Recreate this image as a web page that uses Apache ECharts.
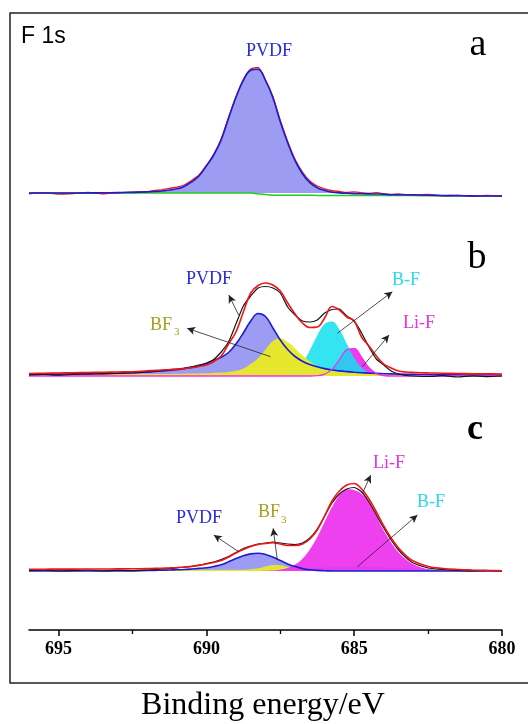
<!DOCTYPE html>
<html><head><meta charset="utf-8">
<script src="https://cdn.jsdelivr.net/npm/echarts/dist/echarts.min.js"></script>
<style>html,body{margin:0;padding:0;background:#fff;}#c{width:528px;height:724px;}</style>
</head><body><div id="c"></div>
<script>
// Binding energy grid (eV)
const energies = [696,695.5,695,694.5,694,693.5,693,692.5,692,691.75,691.5,691.25,691,690.75,690.5,690.25,690,689.75,689.5,689.25,689,688.75,688.5,688.25,688,687.75,687.5,687.25,687,686.75,686.5,686.25,686,685.75,685.5,685.25,685,684.75,684.5,684.25,684,683.75,683.5,683.25,683,682.5,682,681.5,681,680.5,680];
const xTicks = [680,685,690,695];
const xMinorTicks = [682.5,687.5,692.5];

// Panel a
const pvdfA = [0,0,0,0,0.1,0.2,0.4,0.6,1.1,1.5,2.0,3.0,4.2,6.5,11,17,27,38,53,75,96,113,123,124,113,96,72,51,33,20,11,6,3.3,2,1.3,0.9,0.6,0.4,0.3,0.2,0.1,0,0,0,0,0,0,0,0,0,0];
const fitA = [0,0,0,0,0.1,0.2,0.4,0.6,1.1,1.5,2.0,3.0,4.2,6.5,11,17,27,38,53,74.7,95.7,112.7,122.7,123.7,112.5,95.3,71.3,50.3,32.3,19.3,10.3,5.3,2.6,0.8,0.1,-0.3,-0.6,-0.8,-0.9,-1.0,-1.1,-1.8,-1.8,-1.8,-1.8,-2.2,-2.5,-2.7,-2.9,-3,-3];
const rawA = [-0.8,0.3,-1.2,-0.5,0.6,-0.9,0.2,0.9,1.4,2.5,3.2,4.6,5.8,8.0,12.5,18,27.5,38.8,54,75.5,96,113.5,124,125.5,113,96.5,72.5,51.5,33.5,21,12,7,4.2,2.4,1.5,0.5,1.2,0.2,-0.5,0.4,-1.0,-1.5,-0.8,-1.7,-2.2,-1.5,-2.8,-2.2,-3.3,-2.4,-3];
const bgA = [0,0,0,0,0,0,0,0,0,0,0,0,0,0,0,0,0,0,0,0,0,0,0,-0.8,-1.6,-2.2,-2.2,-2.2,-2.2,-2.2,-2.2,-2.4,-2.4,-2.4,-2.4,-2.4,-2.4,-2.4,-2.4,-2.4,-2.4,-2.6,-2.6,-2.6,-2.6,-2.8,-2.9,-3,-3,-3,-3];

// Panel b
const pvdfB = [1.6,1.8,1.9,2.1,2.3,2.6,3.0,3.5,4.1,4.6,5.1,5.6,6.2,7.3,8.6,10.2,12.8,15.8,18.8,23.5,32,43,55,62.5,59.5,48,36,26.5,19.5,14.8,11.5,9.2,7.4,6.0,5.1,4.4,3.8,3.3,2.9,2.6,2.3,2.1,1.9,1.7,1.6,1.4,1.2,1.1,1.0,0.9,0.8];
const bf3B = [1.8,1.8,1.8,1.8,1.8,1.8,1.8,1.8,1.9,2.0,2.0,2.1,2.2,2.3,2.4,2.5,2.7,3.0,3.4,4.1,5.2,7.3,12.2,17.8,26.5,35,37.8,34,27.5,20.4,14.4,9.8,6.9,5.2,4.2,3.7,3.2,2.9,2.8,2.6,2.4,2.3,2.2,2.1,2.0,2.0,1.9,1.9,1.8,1.8,1.8];
const bfB = [0,0,0,0,0,0,0,0,0,0,0,0,0,0,0,0,0,0,0,0,0,0,0,0,0,0.2,0.5,1.9,5.6,13.3,25.8,40.6,52.1,54.6,46.5,32.3,18.3,8.4,3.2,1.5,1.0,0.9,0.9,0.8,0.8,0.8,0.8,0.7,0.7,0.6,0.6];
const lifB = [0,0,0,0,0,0,0,0,0,0,0,0,0,0,0,0,0,0,0,0,0,0,0,0,0,0,0,0,0,0,0,0.3,1.8,6.6,16.4,26.2,27.3,18.6,8.2,2.4,0.5,0,0,0,0,0,0,0,0,0,0];
const fitB = [2.5,2.8,3,3.2,3.5,3.7,4,4.3,5.2,5.6,6,6.4,6.9,7.4,8.2,9.6,11,14.5,20,32,44,64,83,90.5,93,91,85,73,62,53,48.5,49,58,69.5,66,59,55,39,30,20,12,8,5,4,3.6,3.1,2.8,2.5,2.3,2.2,2];
const rawB = [1,1.5,0.8,1.6,1.8,2.2,2.5,3,4,4.6,5.4,6.2,7,8,9.2,11,12.5,16.5,24,34,52,70,80,88,89.5,88,83,69,61,55,54,56,63,66.5,67,60,55,43,29,17,11,5,2,0.5,0,-0.5,0.3,-1,0.2,-0.6,0];

// Panel c
const pvdfC = [0,0,0,0,0,0,0,0.3,0.5,0.6,0.8,1.0,1.2,1.5,2.0,2.6,3.3,4.5,6.3,9.2,12.4,15.2,17.1,17.7,16.5,13.9,10.5,7.1,4.4,2.4,1.2,0.6,0.3,0,0,0,0,0,0,0,0,0,0,0,0,0,0,0,0,0,0];
const bf3C = [1.3,1.3,1.3,1.3,1.3,1.3,1.3,1.3,1.3,1.3,1.3,1.3,1.3,1.3,1.3,1.3,1.3,1.3,1.3,1.3,1.3,1.3,1.8,2.7,4.5,6.0,5.7,4.0,2.4,1.6,1.3,1.3,1.3,1.3,1.3,1.3,1.3,1.3,1.3,1.3,1.3,1.3,1.3,1.3,1.3,1.3,1.3,1.3,1.3,1.3,1.3];
const bfC = [0,0,0,0,0,0,0,0,0,0,0,0,0,0,0,0,0,0,0,0,0,0,0,0,0.3,0.5,0.8,1.2,1.6,2.1,2.7,3.2,3.7,4.1,4.4,4.5,4.5,4.4,4.2,3.9,3.6,3.3,3.0,2.7,2.4,1.9,1.5,1.2,1.0,0.8,0.8];
const lifC = [0,0,0,0,0,0,0,0,0,0,0,0,0,0,0,0,0,0,0,0,0,0,0,0,0.2,0.5,1.3,3.0,6.5,12.3,21.6,34,49,63.9,75.8,81.7,81,77,68.5,55,40.5,28.5,18.7,11.7,6.8,1.9,0.4,0,0,0,0];
const fitC = [1.8,1.8,1.9,1.9,2,2,2.1,2.2,2.4,2.6,2.8,3.1,3.5,4,4.6,5.6,7,8.5,10.5,14,18,21.5,24.4,26.5,27.5,28.3,27,25.5,25.5,27,32,41,55,70,80,86,87.5,82,72,59,45,33,23,15.5,10,4.5,2.5,1.5,1,0.6,0.3];
const rawC = [0.5,1,0,0.5,1,0,0.8,0.2,1,1.5,2,2.5,3,3.8,4.5,5.8,7.5,9,11.5,14.5,18.5,22.5,25,27,28,29,28,27,26.5,28,33,42,55,68,77,82,83.5,79,69,56,43,31,21,13.5,8,3,1.5,0.5,0,0.5,0];

// Annotation arrows: [E tail, I tail, E head, I head]
const arrowsB = [[688.91,61,689.24,81],[687.83,19.3,690.65,47.7],[685.57,42.7,683.71,84.3],[684.72,9.3,683.82,41]];
const arrowsC = [[688.91,19.3,689.75,36],[687.6,11,687.74,42.7],[684.72,77.7,684.44,96],[684.89,4.3,682.86,56]];

const pairs = v => energies.map((e,i)=>[e, v[i]]);
const C = {red:'#ee1515', black:'#151515', blue:'#1c1cd4', blueFill:'rgba(90,90,235,0.6)',
  yellow:'#e8e828', cyan:'#10e0ee', magenta:'#ee30ee', green:'#22cc22'};

function line(name, g, v, color, w, extra){
  return Object.assign({name, type:'line', xAxisIndex:g, yAxisIndex:g, data:pairs(v), showSymbol:false,
    smooth:0.4, lineStyle:{color, width:w}, itemStyle:{color}, silent:true, animation:false}, extra||{});
}
function area(name, g, v, color, fill, lw, op){
  return line(name, g, v, color, lw, {areaStyle:{color:fill, opacity:op}});
}
function arrows(list){
  return {silent:true, symbol:['none','arrow'], symbolSize:[6,8], animation:false,
    lineStyle:{color:'#222', width:0.8, type:'solid'}, label:{show:false},
    data:list.map(a=>[{coord:[a[0],a[1]]},{coord:[a[2],a[3]]}])};
}

const series = [
  // a
  area('PVDF a',0,pvdfA,C.blue,C.blueFill,0,1),
  line('bg a',0,bgA,C.green,1.5),
  line('raw a',0,rawA,C.red,1.3,{smooth:0.2}),
  line('fit a',0,fitA,C.blue,1.6),
  // b
  area('PVDF b',1,pvdfB,C.blue,C.blueFill,1.6,1),
  area('Li-F b',1,lifB,C.magenta,C.magenta,1.3,0.95),
  area('B-F b',1,bfB,C.cyan,C.cyan,0,0.85),
  area('BF3 b',1,bf3B,C.yellow,C.yellow,0,0.97),
  line('raw b',1,rawB,C.black,1.2,{smooth:0.2}),
  line('fit b',1,fitB,C.red,1.6,{markLine:arrows(arrowsB)}),
  // c
  area('B-F c',2,bfC,C.cyan,C.cyan,0,0.85),
  area('PVDF c',2,pvdfC,C.blue,C.blueFill,1.6,1),
  area('BF3 c',2,bf3C,C.yellow,C.yellow,0,0.95),
  area('Li-F c',2,lifC,C.magenta,C.magenta,0,0.92),
  line('raw c',2,rawC,C.black,1.2,{smooth:0.2}),
  line('fit c',2,fitC,C.red,1.6,{markLine:arrows(arrowsC)})
];
const hiddenX = g => ({gridIndex:g, type:'value', min:680, max:696, inverse:true, show:false});
const option = {
  backgroundColor:'#ffffff',
  animation:false,
  grid:[
    {left:29, width:473, top:43, height:158},
    {left:29, width:473, top:226, height:158},
    {left:29, width:473, top:421, height:209}
  ],
  xAxis:[
    hiddenX(0), hiddenX(1),
    {gridIndex:2, type:'value', min:680, max:696, interval:5, inverse:true, position:'bottom',
      axisLine:{onZero:false, lineStyle:{color:'#000', width:1.5}},
      axisTick:{show:true, inside:false, length:6, customValues:xTicks, lineStyle:{color:'#000', width:1.5}},
      axisLabel:{customValues:xTicks, margin:10, color:'#000', fontFamily:'Liberation Serif', fontWeight:'bold', fontSize:18,
        formatter:v=> (v%5===0 && v<696) ? String(v) : ''},
      splitLine:{show:false}},
    {gridIndex:2, type:'value', min:680, max:696, inverse:true, position:'bottom',
      axisLine:{show:false, onZero:false},
      axisTick:{show:true, inside:false, length:4, customValues:xMinorTicks, lineStyle:{color:'#000', width:1.3}},
      axisLabel:{show:false}, splitLine:{show:false}}
  ],
  yAxis:[
    {gridIndex:0, type:'value', min:-8, max:150, show:false},
    {gridIndex:1, type:'value', min:-8, max:150, show:false},
    {gridIndex:2, type:'value', min:-59, max:150, show:false}
  ],
  series,
  graphic:[
    {type:'rect', shape:{x:10, y:13, width:530, height:670}, style:{fill:'none', stroke:'#222', lineWidth:1.5}, silent:true},
    {type:'text', x:21, y:37, style:{text:'F 1s', font:'23px "Liberation Sans", Arial', fill:'#000', align:'left', verticalAlign:'middle'}},
    {type:'text', x:478, y:45, style:{text:'a', font:'38px "Liberation Serif", serif', fill:'#000', align:'center', verticalAlign:'middle'}},
    {type:'text', x:477, y:258, style:{text:'b', font:'38px "Liberation Serif", serif', fill:'#000', align:'center', verticalAlign:'middle'}},
    {type:'text', x:475, y:430, style:{text:'c', font:'bold 36px "Liberation Serif", serif', fill:'#000', align:'center', verticalAlign:'middle'}},
    {type:'text', x:269, y:51, style:{text:'PVDF', font:'18px "Liberation Serif", serif', fill:'#2b2bd6', align:'center', verticalAlign:'middle'}},
    {type:'text', x:209, y:279, style:{text:'PVDF', font:'18px "Liberation Serif", serif', fill:'#2b2bd6', align:'center', verticalAlign:'middle'}},
    {type:'text', x:406, y:280, style:{text:'B-F', font:'18px "Liberation Serif", serif', fill:'#29d9ee', align:'center', verticalAlign:'middle'}},
    {type:'text', x:419, y:323, style:{text:'Li-F', font:'18px "Liberation Serif", serif', fill:'#e433e4', align:'center', verticalAlign:'middle'}},
    {type:'text', x:150, y:325, style:{text:'BF', font:'18px "Liberation Serif", serif', fill:'#a6a01e', align:'left', verticalAlign:'middle'}},
    {type:'text', x:174, y:332, style:{text:'3', font:'11px "Liberation Serif", serif', fill:'#a6a01e', align:'left', verticalAlign:'middle'}},
    {type:'text', x:199, y:518, style:{text:'PVDF', font:'18px "Liberation Serif", serif', fill:'#2b2bd6', align:'center', verticalAlign:'middle'}},
    {type:'text', x:258, y:512, style:{text:'BF', font:'18px "Liberation Serif", serif', fill:'#a6a01e', align:'left', verticalAlign:'middle'}},
    {type:'text', x:281, y:520, style:{text:'3', font:'11px "Liberation Serif", serif', fill:'#a6a01e', align:'left', verticalAlign:'middle'}},
    {type:'text', x:389, y:463, style:{text:'Li-F', font:'18px "Liberation Serif", serif', fill:'#e433e4', align:'center', verticalAlign:'middle'}},
    {type:'text', x:431, y:502, style:{text:'B-F', font:'18px "Liberation Serif", serif', fill:'#29d9ee', align:'center', verticalAlign:'middle'}},
    {type:'text', x:263, y:706, style:{text:'Binding energy/eV', font:'32px "Liberation Serif", serif', fill:'#000', align:'center', verticalAlign:'middle'}}
  ]
};
const chart = echarts.init(document.getElementById('c'), null, {renderer:'canvas'});
chart.setOption(option);
</script></body></html>
